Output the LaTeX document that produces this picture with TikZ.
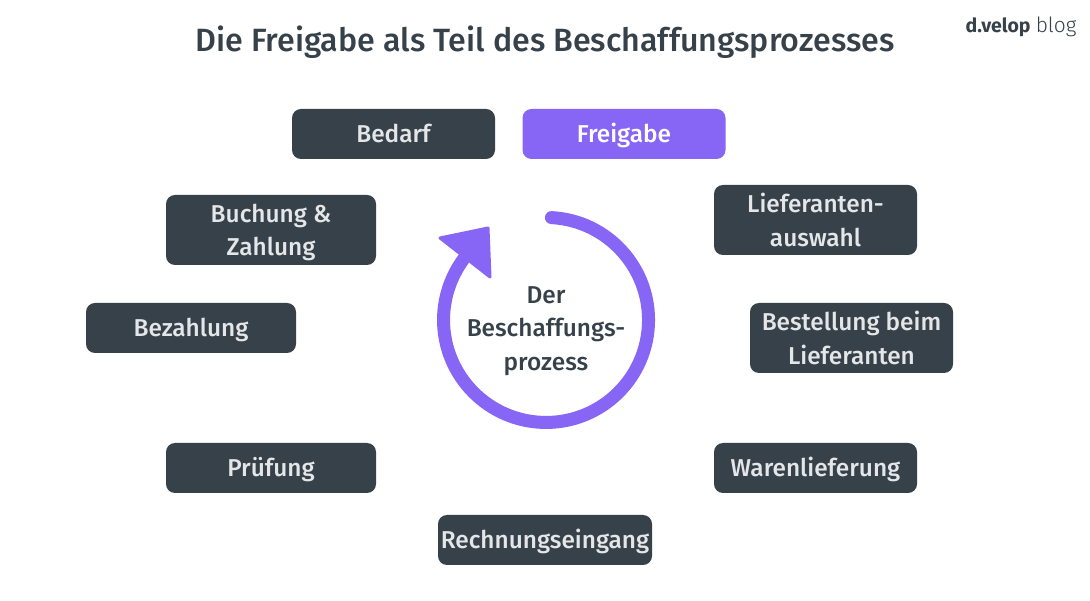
\documentclass[tikz,border=0pt]{standalone}
\usepackage{fontspec}
\setmainfont{Fira Sans}
\newfontfamily\medfont{Fira Sans Medium}
\newfontfamily\lightfont{Fira Sans Light}
\definecolor{slate}{HTML}{36414A}
\definecolor{violet}{HTML}{8766F6}
\definecolor{pale}{HTML}{E4E6E8}
\tikzset{
  basebox/.style={rectangle,rounded corners=9pt,fill=slate,text=pale,align=center,
    inner sep=0pt,font=\fontsize{24.4}{33.5}\medfont},
  stepbox/.style={basebox,minimum height=50pt,text height=20pt,text depth=3pt},
  activebox/.style={stepbox,fill=violet,text=white},
  tallbox/.style={basebox,minimum height=70pt,text depth=0pt,execute at begin node={\rule{0pt}{23pt}}},
}
\begin{document}
\begin{tikzpicture}[x=1pt,y=1pt]
\useasboundingbox (0,0) rectangle (1090,600);
% heading and blog mark
\node (title) at (545,558) [text=slate,font=\fontsize{32.2}{38}\medfont] {Die Freigabe als Teil des Beschaffungsprozesses};
\node (mark) at (1021,573) [text=slate,font=\fontsize{19.5}{24}\selectfont] {{\bfseries d.velop} {\lightfont\fontsize{21}{24}\selectfont blog}};
% process steps
\node[stepbox,minimum width=203pt] (bedarf) at (393.5,466) {Bedarf};
\node[activebox,minimum width=203pt] (freigabe) at (624,466) {Freigabe};
\node[tallbox,minimum width=203pt] (auswahl) at (815.5,380) {Lieferanten-\\auswahl};
\node[tallbox,minimum width=203pt] (bestellung) at (851.5,262) {Bestellung beim\\Lieferanten};
\node[stepbox,minimum width=203pt] (lieferung) at (815.5,132) {Warenlieferung};
\node[stepbox,minimum width=214pt] (rechnung) at (545,60) {Rechnungseingang};
\node[stepbox,minimum width=210pt] (pruefung) at (271,132) {Prüfung};
\node[stepbox,minimum width=210pt] (bezahlung) at (191,272) {Bezahlung};
\node[tallbox,minimum width=210pt] (buchung) at (271,370) {Buchung \&\\Zahlung};
% cycle in the middle
\draw [violet,line width=13pt,line cap=round] (551.4,382.4) arc (87:-219:102.5);
\fill [violet,draw=violet,line width=3pt,line join=round] (440,362) -- (488,372) -- (490,323) -- cycle;
\node (cycle) at (546,269) [text=slate,align=center,font=\fontsize{24.4}{33.5}\medfont] {Der\\Beschaffungs-\\prozess};
\end{tikzpicture}
\end{document}
